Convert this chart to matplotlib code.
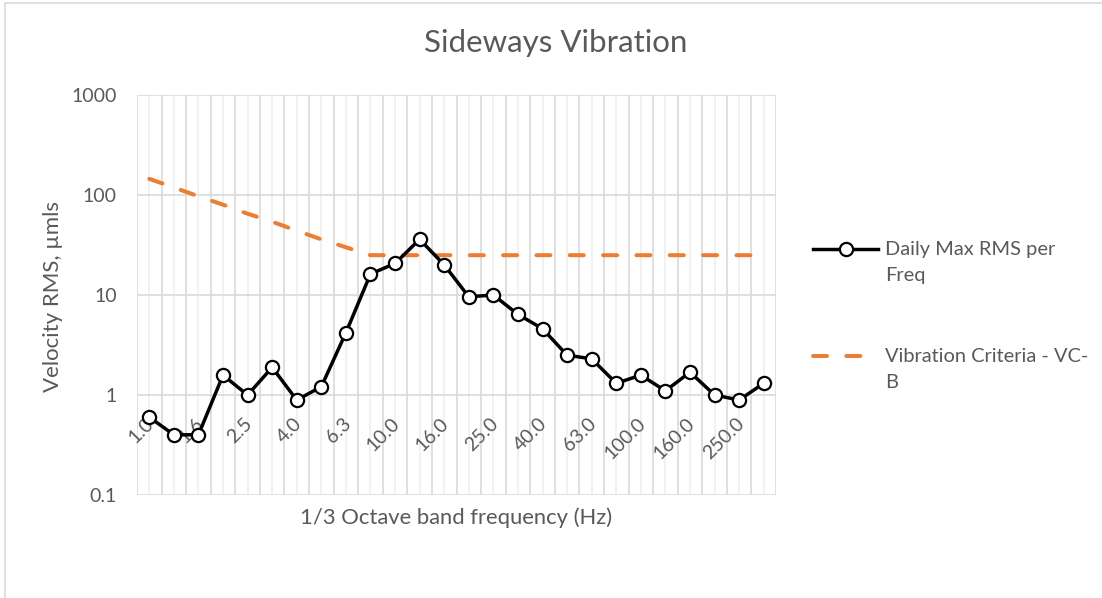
import matplotlib
matplotlib.use('Agg')
import matplotlib.pyplot as plt
from matplotlib.lines import Line2D
from matplotlib.patches import Rectangle
import matplotlib.transforms as mtransforms

plt.rcParams['font.family'] = ['Lato', 'DejaVu Sans']
plt.rcParams['lines.scale_dashes'] = False

# 1/3 octave bands (Hz)
bands = ['1.0', '1.25', '1.6', '2.0', '2.5', '3.15', '4.0', '5.0', '6.3', '8.0',
         '10.0', '12.5', '16.0', '20.0', '25.0', '31.5', '40.0', '50.0', '63.0', '80.0',
         '100.0', '125.0', '160.0', '200.0', '250.0', '315.0']
daily_max = [0.6, 0.4, 0.4, 1.58, 1.0, 1.89, 0.89, 1.21, 4.2, 16.2,
             20.7, 36, 20, 9.6, 10.0, 6.4, 4.6, 2.5, 2.3, 1.31,
             1.58, 1.1, 1.69, 1.0, 0.89, 1.31]
vc_b = [145, 119, 97, 80, 65, 54, 44, 36, 30, 25,
        25, 25, 25, 25, 25, 25, 25, 25, 25, 25,
        25, 25, 25, 25, 25, 25]
y_ticks = [0.1, 1, 10, 100, 1000]
y_ticklabels = ['0.1', '1', '10', '100', '1000']

W, H = 1102, 598
txt = '#595959'
grid_c = '#d9d9d9'

fig = plt.figure(figsize=(W / 100, H / 100), dpi=100)
# chart border
fig.add_artist(Rectangle((5 / W, -0.1), 1.2, 1 - 3 / H + 0.1, transform=fig.transFigure,
                         fill=False, edgecolor=grid_c, lw=1.2))

ax = fig.add_axes([137 / W, 1 - 495 / H, (776 - 137) / W, 400 / H])
x = list(range(len(bands)))

ax.plot(x, vc_b, color='#ED7D31', lw=2.9, dashes=(10, 14), dash_capstyle='round',
        solid_capstyle='round', zorder=3)
ax.plot(x, daily_max, color='black', lw=2.5, marker='o', markersize=9.5,
        markerfacecolor='white', markeredgecolor='black', markeredgewidth=1.6, zorder=4)

ax.set_yscale('log')
ax.set_ylim(0.1, 1000)
ax.set_xlim(-0.5, len(bands) - 0.5)

# gridlines: category boundaries darker, centres lighter
for i in range(len(bands) + 1):
    ax.axvline(i - 0.5, color=grid_c, lw=1.2, zorder=1)
for i in range(len(bands)):
    ax.axvline(i, color='#efefef', lw=1.2, zorder=0.5)
for v in y_ticks:
    ax.axhline(v, color=grid_c, lw=1.2, zorder=1)

for s in ax.spines.values():
    s.set_visible(False)
ax.set_xticks([])
ax.set_yticks(y_ticks)
ax.set_yticklabels(y_ticklabels)
ax.minorticks_off()
ax.tick_params(axis='y', length=0, pad=14.5, labelsize=14, labelcolor=txt)

# category labels sit under the y=1 crossing line
off = mtransforms.ScaledTranslation(-4 / 100, -20 / 100, fig.dpi_scale_trans)
for i in range(0, len(bands), 2):
    ax.text(i, 1, bands[i], rotation=45, rotation_mode='anchor', ha='right', va='top',
            fontsize=14, color=txt, transform=ax.transData + off, zorder=2)

fig.text(556 / W, 1 - 43 / H, 'Sideways Vibration', ha='center', va='center',
         fontsize=22.5, color=txt)
fig.text(456.5 / W, 1 - 518 / H, '1/3 Octave band frequency (Hz)', ha='center', va='center',
         fontsize=15.8, color=txt)
fig.text(63 / W, 1 - 296 / H, 'Velocity RMS, \u00b5mls', ha='right', va='center',
         rotation=90, fontsize=16, color=txt)

# legend
fig.add_artist(Line2D([813 / W, 878 / W], [1 - 249 / H] * 2, transform=fig.transFigure,
                      color='black', lw=2.5))
fig.add_artist(Line2D([845.5 / W], [1 - 249 / H], transform=fig.transFigure,
                      marker='o', markersize=9.5, markerfacecolor='white',
                      markeredgecolor='black', markeredgewidth=1.6))
fig.text(885 / W, 1 - 249 / H, 'Daily Max RMS per', va='center', fontsize=14.4, color=txt)
fig.text(885 / W, 1 - 276 / H, 'Freq', va='center', fontsize=14.4, color=txt)
fig.add_artist(Line2D([813 / W, 866 / W], [1 - 356 / H] * 2, transform=fig.transFigure,
                      color='#ED7D31', lw=2.9, dashes=(10, 14), dash_capstyle='round'))
fig.text(885 / W, 1 - 356 / H, 'Vibration Criteria - VC-', va='center', fontsize=14.4, color=txt)
fig.text(885 / W, 1 - 383 / H, 'B', va='center', fontsize=14.4, color=txt)

fig.savefig('out.png', dpi=100)
